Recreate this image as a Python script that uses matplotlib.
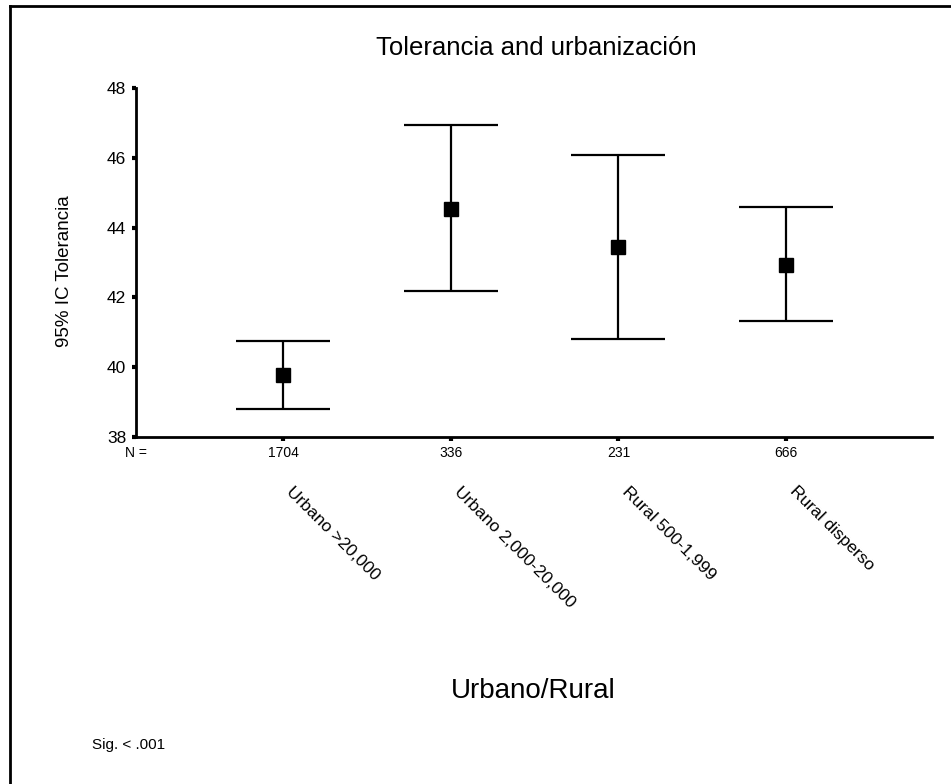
import matplotlib
matplotlib.use("Agg")
import matplotlib.pyplot as plt
from matplotlib.lines import Line2D

plt.rcParams['font.family'] = ['Liberation Sans', 'DejaVu Sans']

# Data
categories = ['Urbano >20,000', 'Urbano 2,000-20,000', 'Rural 500-1,999', 'Rural disperso']
n_counts = ['1704', '336', '231', '666']
means = [39.78, 44.54, 43.44, 42.93]
ci_low = [38.81, 42.18, 40.81, 41.32]
ci_high = [40.76, 46.95, 46.09, 44.59]
y_ticks = [38, 40, 42, 44, 46, 48]

fig = plt.figure(figsize=(9.51, 7.84), dpi=100)
ax = fig.add_axes([136 / 951, (784 - 437) / 784, (932 - 136) / 951, (437 - 88) / 784])

xs = list(range(1, len(categories) + 1))

# Vertical CI lines, caps and means
ax.vlines(xs, ci_low, ci_high, color='black', lw=1.6)
ax.hlines(ci_low, [x - 0.28 for x in xs], [x + 0.28 for x in xs], color='black', lw=1.6)
ax.hlines(ci_high, [x - 0.28 for x in xs], [x + 0.28 for x in xs], color='black', lw=1.6)
ax.plot(xs, means, 's', color='black', markersize=10, linestyle='none')

ax.set_xlim(0.123, 4.87)
ax.set_ylim(38, 48)
ax.set_yticks(y_ticks)
ax.set_yticklabels([str(t) for t in y_ticks], fontsize=12.5)
ax.set_xticks(xs)
ax.set_xticklabels([])
ax.tick_params(axis='both', direction='out', length=3, width=3, color='black', pad=4)

for side in ['top', 'right']:
    ax.spines[side].set_visible(False)
for side in ['left', 'bottom']:
    ax.spines[side].set_linewidth(2)

ax.set_ylabel('95% IC Tolerancia', fontsize=13.5)
ax.yaxis.set_label_coords(-0.079, 0.475)

# N counts under the axis
ax.annotate('N =', xy=(0, 0), xycoords='axes fraction', xytext=(0, -16),
            textcoords='offset pixels', ha='center', va='center', fontsize=10)
for x, n in zip(xs, n_counts):
    ax.annotate(n, xy=(x, 0), xycoords=('data', 'axes fraction'), xytext=(0, -16),
                textcoords='offset pixels', ha='center', va='center', fontsize=10)

# Rotated category labels
for x, c in zip(xs, categories):
    ax.annotate(c, xy=(x, 0), xycoords=('data', 'axes fraction'), xytext=(6, -52),
                textcoords='offset pixels', ha='left', va='center', rotation=-45,
                rotation_mode='anchor', fontsize=12.5)

fig.text(536 / 951, 1 - 48 / 784, 'Tolerancia and urbanización', ha='center', va='center', fontsize=18.5)
fig.text(533 / 951, 1 - 691 / 784, 'Urbano/Rural', ha='center', va='center', fontsize=20)
fig.text(92 / 951, 1 - 745 / 784, 'Sig. < .001', ha='left', va='center', fontsize=11)

# Outer frame (top and left edges)
fig.add_artist(Line2D([9.5 / 951, 1], [1 - 5.5 / 784, 1 - 5.5 / 784], transform=fig.transFigure, color='black', lw=2))
fig.add_artist(Line2D([9.5 / 951, 9.5 / 951], [0, 1 - 5.5 / 784], transform=fig.transFigure, color='black', lw=2))

fig.savefig('out.png', dpi=100)
